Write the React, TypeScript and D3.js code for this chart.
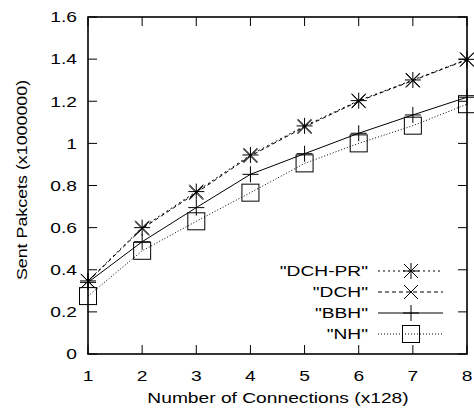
import React from "react";
import * as d3 from "d3";

const xValues = [1, 2, 3, 4, 5, 6, 7, 8];
const dchPr = [0.347, 0.6, 0.771, 0.945, 1.083, 1.203, 1.301, 1.399];
const dch = [0.345, 0.595, 0.765, 0.94, 1.078, 1.2, 1.298, 1.397];
const bbh = [0.34, 0.533, 0.695, 0.853, 0.951, 1.048, 1.135, 1.219];
const nh = [0.275, 0.49, 0.63, 0.766, 0.905, 1.0, 1.084, 1.186];
const yTicks = [0, 0.2, 0.4, 0.6, 0.8, 1, 1.2, 1.4, 1.6];
const xTicks = [1, 2, 3, 4, 5, 6, 7, 8];
const seriesNames = ['"DCH-PR"', '"DCH"', '"BBH"', '"NH"'];

const W = 474;
const H = 412;
const L = 88, R = 467, T = 17, B = 354;
const FONT = "'Liberation Sans', Arial, Helvetica, sans-serif";
const FS = 15;
const SX = 1.28;

type Marker = "star" | "x" | "plus" | "square";

function MarkerShape({ type, cx, cy }: { type: Marker; cx: number; cy: number }) {
  const s = 8;
  const d = 7;
  const st = { stroke: "#000", strokeWidth: 1, fill: "none" } as const;
  if (type === "plus") {
    return (
      <g {...st}>
        <line x1={cx - s} y1={cy} x2={cx + s} y2={cy} />
        <line x1={cx} y1={cy - s} x2={cx} y2={cy + s} />
      </g>
    );
  }
  if (type === "x") {
    return (
      <g {...st}>
        <line x1={cx - d} y1={cy - d} x2={cx + d} y2={cy + d} />
        <line x1={cx - d} y1={cy + d} x2={cx + d} y2={cy - d} />
      </g>
    );
  }
  if (type === "star") {
    return (
      <g {...st}>
        <line x1={cx - s} y1={cy} x2={cx + s} y2={cy} />
        <line x1={cx} y1={cy - s} x2={cx} y2={cy + s} />
        <line x1={cx - d} y1={cy - d} x2={cx + d} y2={cy + d} />
        <line x1={cx - d} y1={cy + d} x2={cx + d} y2={cy - d} />
      </g>
    );
  }
  return <rect x={cx - 8.5} y={cy - 8.5} width={17} height={17} {...st} />;
}

export default function App() {
  const x = d3.scaleLinear().domain([1, 8]).range([L, R]);
  const y = d3.scaleLinear().domain([0, 1.6]).range([B, T]);

  const series = [
    { name: seriesNames[0], values: dchPr, marker: "star" as Marker, dash: "2,3" },
    { name: seriesNames[1], values: dch, marker: "x" as Marker, dash: "4,3" },
    { name: seriesNames[2], values: bbh, marker: "plus" as Marker, dash: "none" },
    { name: seriesNames[3], values: nh, marker: "square" as Marker, dash: "1,2" },
  ];

  const line = d3
    .line<number>()
    .x((_, i) => x(xValues[i]))
    .y((v) => y(v));

  const legendY = [271, 292, 313, 334];
  const legX1 = 378, legX2 = 443, legMid = 411;

  return (
    <svg
      width={W}
      height={H}
      style={{ position: "absolute", left: 0, top: 0, background: "#fff" }}
      fontFamily={FONT}
      fontSize={FS}
    >
      <rect x={0} y={0} width={W} height={H} fill="#fff" />
      {yTicks.map((t) => (
        <g key={"y" + t} stroke="#000" strokeWidth={1}>
          <line x1={L} x2={L + 9} y1={y(t)} y2={y(t)} />
          <line x1={R} x2={R - 9} y1={y(t)} y2={y(t)} />
        </g>
      ))}
      {xTicks.map((t) => (
        <g key={"x" + t} stroke="#000" strokeWidth={1}>
          <line x1={x(t)} x2={x(t)} y1={B} y2={B - 9} />
          <line x1={x(t)} x2={x(t)} y1={T} y2={T + 9} />
        </g>
      ))}
      {yTicks.map((t) => (
        <text
          key={"yl" + t}
          transform={`translate(77,${y(t) + 5.3}) scale(${SX},1)`}
          textAnchor="end"
        >
          {d3.format("~g")(t)}
        </text>
      ))}
      {xTicks.map((t) => (
        <text
          key={"xl" + t}
          transform={`translate(${x(t)},381) scale(${SX},1)`}
          textAnchor="middle"
        >
          {t}
        </text>
      ))}
      <text transform={`translate(278,403) scale(${SX},1)`} textAnchor="middle">
        Number of Connections (x128)
      </text>
      <text transform={`translate(27,180) rotate(-90) scale(1.19,1)`} textAnchor="middle">
        Sent Pakcets (x1000000)
      </text>
      {series.map((s) => (
        <path
          key={"l" + s.name}
          d={line(s.values) || ""}
          fill="none"
          stroke="#000"
          strokeWidth={1}
          strokeDasharray={s.dash}
        />
      ))}
      {series.map((s) =>
        s.values.map((v, i) => (
          <MarkerShape key={s.name + i} type={s.marker} cx={x(xValues[i])} cy={y(v)} />
        ))
      )}
      {series.map((s, i) => (
        <g key={"leg" + s.name}>
          <text
            transform={`translate(368,${legendY[i] + 5.3}) scale(${SX},1)`}
            textAnchor="end"
          >
            {s.name}
          </text>
          <line
            x1={legX1}
            x2={legX2}
            y1={legendY[i]}
            y2={legendY[i]}
            stroke="#000"
            strokeWidth={1}
            strokeDasharray={s.dash}
          />
          <MarkerShape type={s.marker} cx={legMid} cy={legendY[i]} />
        </g>
      ))}
      <rect x={L} y={T} width={R - L} height={B - T} fill="none" stroke="#000" strokeWidth={1.6} />
    </svg>
  );
}
